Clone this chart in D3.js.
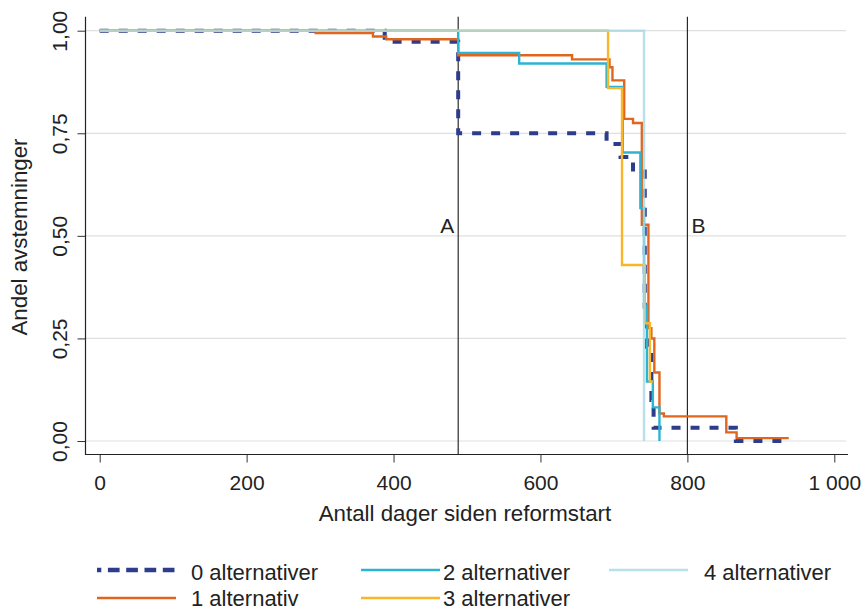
<!DOCTYPE html>
<html><head><meta charset="utf-8">
<script src="https://cdn.jsdelivr.net/npm/d3@7"></script>
<style>
body{margin:0;background:#fff;}
svg{display:block;font-family:"Liberation Sans",Arial,Helvetica,sans-serif;}
</style></head><body>
<svg id="chart" width="865" height="612"></svg>
<script>
// ---- data ----
const xTicks = [0, 200, 400, 600, 800, 1000];
const yTicks = [0, 0.25, 0.5, 0.75, 1];
const refDays = [488, 800];
const refLabels = ["A", "B"];
const seriesNames = ["0 alternativer", "1 alternativ", "2 alternativer", "3 alternativer", "4 alternativer"];
const seriesColors = ["#2e3d8b", "#e0651f", "#2db4d2", "#f9b629", "#a6d8e6"];

const s0Days = [0, 388, 488, 690, 709, 726, 742, 745, 751, 754, 866, 937];
const s0Vals = [1, 0.973, 0.75, 0.724, 0.692, 0.657, 0.327, 0.23, 0.1, 0.032, 0, 0];
const s1Days = [0, 294, 372, 390, 488, 643, 694, 698, 714, 726, 738, 747, 751, 755, 762, 768, 853, 867, 938];
const s1Vals = [1, 0.994, 0.986, 0.979, 0.94, 0.93, 0.911, 0.879, 0.785, 0.775, 0.527, 0.275, 0.25, 0.167, 0.067, 0.06, 0.021, 0.007, 0.007];
const s2Days = [0, 488, 571, 690, 712, 736, 741, 745, 753, 762];
const s2Vals = [1, 0.946, 0.92, 0.863, 0.703, 0.568, 0.33, 0.145, 0.082, 0];
const s3Days = [0, 692, 711, 742, 749, 753];
const s3Vals = [1, 0.86, 0.429, 0.287, 0.145, 0.145];
const s4Days = [0, 741];
const s4Vals = [1, 0];

const seriesDays = [s0Days, s1Days, s2Days, s3Days, s4Days];
const seriesVals = [s0Vals, s1Vals, s2Vals, s3Vals, s4Vals];

// ---- setup ----
const svg = d3.select("#chart");
const x = d3.scaleLinear().domain([0, 1000]).range([99.7, 834.3]);
const y = d3.scaleLinear().domain([0, 1]).range([441, 30.7]);
const loc = d3.formatLocale({decimal: ",", thousands: " ", grouping: [3], currency: ["", ""]});
const textCol = "#222";

const axisX = 85.5, axisY = 454.5, plotTop = 16.7, plotRight = 848;

// gridlines
svg.append("g").selectAll("line").data(yTicks).join("line")
  .attr("x1", axisX).attr("x2", 846)
  .attr("y1", d => y(d)).attr("y2", d => y(d))
  .attr("stroke", "#e0e0e0").attr("stroke-width", 1.2);

// reference lines
svg.append("g").selectAll("line").data(refDays).join("line")
  .attr("x1", d => x(d)).attr("x2", d => x(d))
  .attr("y1", plotTop).attr("y2", axisY)
  .attr("stroke", "#1a1a1a").attr("stroke-width", 1.1);
svg.append("g").selectAll("text").data(refDays).join("text")
  .attr("x", (d, i) => i === 0 ? x(d) - 4 : x(d) + 4)
  .attr("y", 233)
  .attr("text-anchor", (d, i) => i === 0 ? "end" : "start")
  .attr("font-size", 21).attr("fill", textCol)
  .text((d, i) => refLabels[i]);

// axes
const gx = svg.append("g").attr("transform", `translate(0,${axisY})`)
  .call(d3.axisBottom(x).tickValues(xTicks).tickSize(8).tickSizeOuter(0).tickFormat(loc.format(",d")));
gx.select(".domain").remove();
gx.selectAll(".tick line").attr("stroke", "#333");
gx.selectAll(".tick text").attr("y", 35).attr("dy", 0).attr("font-size", 21)
  .attr("fill", textCol).attr("font-family", "Liberation Sans, Arial, sans-serif");
svg.append("line").attr("x1", axisX - 0.5).attr("x2", plotRight).attr("y1", axisY).attr("y2", axisY)
  .attr("stroke", "#222").attr("stroke-width", 1.2);

const gy = svg.append("g").attr("transform", `translate(${axisX},0)`)
  .call(d3.axisLeft(y).tickValues(yTicks).tickSize(8).tickSizeOuter(0).tickFormat(loc.format(".2f")));
gy.select(".domain").remove();
gy.selectAll(".tick line").attr("stroke", "#333");
gy.selectAll(".tick text").attr("x", 0).attr("dy", 0)
  .attr("transform", "translate(-19,0) rotate(-90)")
  .attr("text-anchor", "middle").attr("font-size", 21)
  .attr("fill", textCol).attr("font-family", "Liberation Sans, Arial, sans-serif");
svg.append("line").attr("x1", axisX).attr("x2", axisX).attr("y1", plotTop).attr("y2", axisY + 0.5)
  .attr("stroke", "#222").attr("stroke-width", 1.2);

// axis titles
svg.append("text").attr("x", 465).attr("y", 521).attr("text-anchor", "middle")
  .attr("font-size", 22.3).attr("fill", textCol).text("Antall dager siden reformstart");
svg.append("text").attr("transform", "translate(27,237) rotate(-90)").attr("text-anchor", "middle")
  .attr("font-size", 22.3).attr("fill", textCol).text("Andel avstemninger");

// series
const line = d3.line().x(d => x(d[0])).y(d => y(d[1])).curve(d3.curveStepAfter);
const gS = svg.append("g");
seriesDays.forEach((days, i) => {
  const pts = days.map((d, j) => [d, seriesVals[i][j]]);
  const p = gS.append("path").datum(pts).attr("d", line)
    .attr("fill", "none").attr("stroke", seriesColors[i])
    .attr("stroke-linejoin", "miter");
  if (i === 0) {
    p.attr("stroke-width", 4).attr("stroke-dasharray", "9,10");
  } else {
    p.attr("stroke-width", 2.4);
  }
  if (i === 4) p.attr("stroke-opacity", 0.8);
});

// legend
const legLineX = [97, 361, 609];
const legTextX = [191, 443, 704];
const legLineY = [570, 598];
const legTextY = [579.5, 606];
const gL = svg.append("g");
seriesNames.forEach((name, i) => {
  const c = Math.floor(i / 2), r = i % 2;
  const ln = gL.append("line")
    .attr("x1", legLineX[c]).attr("x2", legLineX[c] + 79)
    .attr("y1", legLineY[r]).attr("y2", legLineY[r])
    .attr("stroke", seriesColors[i]);
  if (i === 0) ln.attr("stroke-width", 4.5).attr("stroke-dasharray", "11.7,6.6").attr("stroke-dashoffset", 7.4);
  else ln.attr("stroke-width", 2.4);
  if (i === 4) ln.attr("stroke-opacity", 0.8);
  gL.append("text").attr("x", legTextX[c]).attr("y", legTextY[r])
    .attr("font-size", 22).attr("fill", textCol).text(name);
});
</script>
</body></html>
